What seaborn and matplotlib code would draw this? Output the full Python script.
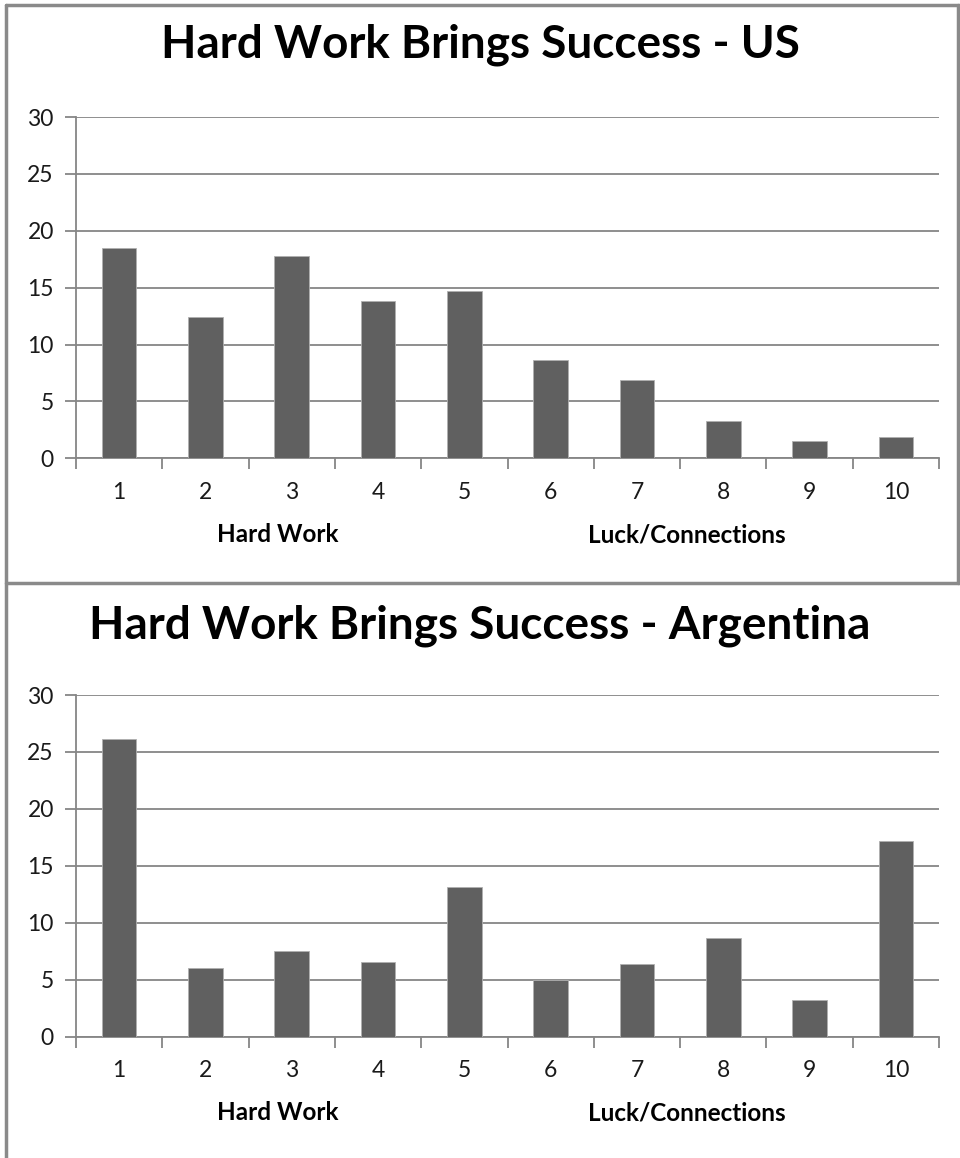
import matplotlib
matplotlib.use("Agg")
import matplotlib.pyplot as plt
import seaborn as sns
import pandas as pd
from matplotlib.lines import Line2D
from matplotlib.ticker import FixedLocator

sns.set_theme(style="white")
plt.rcParams['font.family'] = ['Lato', 'DejaVu Sans']

categories = ["1", "2", "3", "4", "5", "6", "7", "8", "9", "10"]
us_values = [18.5, 12.4, 17.8, 13.8, 14.7, 8.6, 6.9, 3.3, 1.5, 1.85]
arg_values = [26.1, 6.0, 7.5, 6.6, 13.1, 5.0, 6.35, 8.7, 3.2, 17.15]
titles = ["Hard Work Brings Success - US", "Hard Work Brings Success - Argentina"]
left_label = "Hard Work"
right_label = "Luck/Connections"
y_ticks = [0, 5, 10, 15, 20, 25, 30]

W, H = 960, 1158
fig = plt.figure(figsize=(W / 100, H / 100), dpi=100)

grid_col = "#868686"
bar_col = "#606060"

def fx(px):
    return px / W

def fy(py):
    return 1 - py / H

panels = [
    (us_values, titles[0], 117, 458.3, 45, 535),
    (arg_values, titles[1], 695, 1036.7, 626, 1113),
]

for vals, title, ytop, ybot, ty, lab_y in panels:
    ax = fig.add_axes([fx(76), fy(ybot), fx(939) - fx(76), (ybot - ytop) / H])
    df = pd.DataFrame({"cat": categories, "val": vals})
    sns.barplot(data=df, x="cat", y="val", ax=ax, color=bar_col, width=0.4,
                saturation=1, edgecolor="#b0b0b0", linewidth=0.6, zorder=3)
    ax.set_xlim(-0.5, 9.5)
    ax.set_ylim(0, 30)
    ax.set_yticks(y_ticks)
    ax.set_yticklabels([str(t) for t in y_ticks], fontsize=16.5, color="#1a1a1a")
    ax.yaxis.grid(True, color=grid_col, linewidth=1.3, zorder=0)
    ax.xaxis.grid(False)
    ax.set_xlabel("")
    ax.set_ylabel("")
    for s in ["top", "right"]:
        ax.spines[s].set_visible(False)
    for s in ["left", "bottom"]:
        ax.spines[s].set_color(grid_col)
        ax.spines[s].set_linewidth(1.3)
    ax.tick_params(axis="y", length=8, width=1.3, color=grid_col, left=True, pad=8)
    ax.tick_params(axis="x", which="major", length=0, labelsize=16.5, labelcolor="#1a1a1a", pad=17)
    ax.xaxis.set_minor_locator(FixedLocator([i - 0.5 for i in range(11)]))
    ax.tick_params(axis="x", which="minor", length=8, width=1.3, color=grid_col, bottom=True)
    fig.text(0.5, fy(ty), title, ha="center", va="center", fontsize=33, fontweight="bold", color="black")
    fig.text(fx(278), fy(lab_y), left_label, ha="center", va="center", fontsize=17.5, fontweight="bold", color="black")
    fig.text(fx(687), fy(lab_y), right_label, ha="center", va="center", fontsize=17.5, fontweight="bold", color="black")

border = "#8a8a8a"
fig.add_artist(Line2D([fx(6), 1.0], [fy(5), fy(5)], color=border, linewidth=2.5, transform=fig.transFigure))
fig.add_artist(Line2D([fx(6), fx(6)], [0, fy(5)], color=border, linewidth=2.5, transform=fig.transFigure))
fig.add_artist(Line2D([fx(957.5), fx(957.5)], [fy(582.5), fy(5)], color=border, linewidth=2.5, transform=fig.transFigure))
fig.add_artist(Line2D([fx(6), 1.0], [fy(582.5), fy(582.5)], color=border, linewidth=2.5, transform=fig.transFigure))

fig.savefig("out.png", dpi=100, facecolor="white")
